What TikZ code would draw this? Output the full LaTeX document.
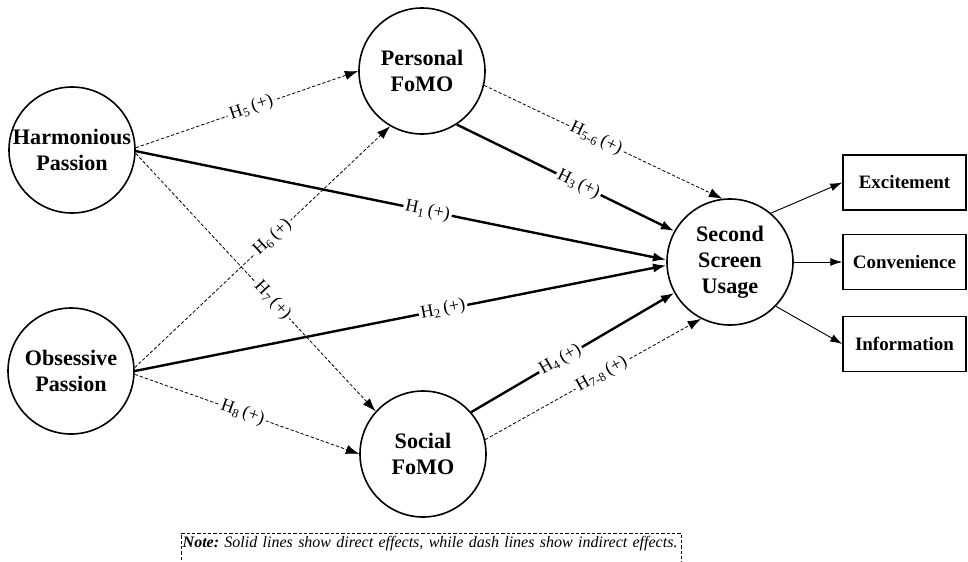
\documentclass[tikz,border=0pt]{standalone}
\usepackage{fontspec}
\setmainfont{Liberation Serif}
\usetikzlibrary{arrows.meta}
\newcommand\Hyp[1]{H\textsubscript{#1}\,(+)}
\begin{document}
\begin{tikzpicture}[x=0.75pt,y=-0.75pt,
  latent/.style={circle, draw, line width=1.2pt, minimum size=94.5pt, inner sep=0pt,
    align=center, font=\bfseries\fontsize{16.6}{19.5}\selectfont},
  indicator/.style={rectangle, draw, line width=1.1pt, minimum width=92.25pt,
    minimum height=41pt, inner sep=0pt, font=\bfseries\fontsize{14.2}{17}\selectfont},
  direct/.style={line width=1.8pt, -{Latex[length=10pt,width=7pt]}},
  indirect/.style={line width=0.6pt, dash pattern=on 2.5pt off 1.5pt,
    -{Latex[length=10pt,width=7pt]}},
  loading/.style={line width=0.7pt, -{Latex[length=9pt,width=6pt]}},
  hyp/.style={sloped, fill=white, inner sep=1.5pt, font=\fontsize{13.5}{15}\selectfont},
  notebox/.style={draw, line width=0.6pt, dash pattern=on 2.5pt off 1.5pt,
    anchor=north west, text width=373pt, align=left, inner xsep=1pt,
    inner ysep=2pt, text depth=20pt, font=\fontsize{12}{14}\selectfont}]
\useasboundingbox (0,0) rectangle (968,561);

% latent constructs
\node[latent] (hp)  at (72,150)  {Harmonious\\Passion};
\node[latent] (op)  at (71,371)  {Obsessive\\Passion};
\node[latent] (pf)  at (422,71)  {Personal\\FoMO};
\node[latent] (sf)  at (423,454) {Social\\FoMO};
\node[latent] (ssu) at (730,262) {Second\\Screen\\Usage};

% indicators
\node[indicator] (exc)  at (904.5,182.5) {Excitement};
\node[indicator] (conv) at (904.5,262)   {Convenience};
\node[indicator] (info) at (904.5,344)   {Information};

% paths from harmonious passion
\draw[indirect] (hp.2)  -- node[hyp, pos=.52] {\Hyp{5}} (pf.west);
\draw[direct]   (hp.-1) -- node[hyp, pos=.55] {\Hyp{1}} (ssu.178);
\draw[indirect] (hp.-3) -- node[hyp, pos=.57] {\Hyp{7}} (sf.138);

% paths from obsessive passion
\draw[indirect] (op.3)  -- node[hyp, pos=.54] {\Hyp{6}} (pf.240);
\draw[direct]   (op.0)  -- node[hyp, pos=.58] {\Hyp{2}} (ssu.183);
\draw[indirect] (op.-3) -- node[hyp, pos=.48] {\Hyp{8}} (sf.west);

% paths from FoMO to second screen usage
\draw[direct]   (pf.-57) -- node[hyp, pos=.56] {\Hyp{3}}   (ssu.151);
\draw[indirect] (pf.-13) -- node[hyp, pos=.47] {\Hyp{5-6}} (ssu.97);
\draw[direct]   (sf.41)  -- node[hyp, pos=.44] {\Hyp{4}}   (ssu.209);
\draw[indirect] (sf.13)  -- node[hyp, pos=.54] {\Hyp{7-8}} (ssu.243);

% measurement paths
\draw[loading] (ssu.50)  -- (exc.west);
\draw[loading] (ssu.east) -- (conv.west);
\draw[loading] (ssu.-44) -- (info.west);

% note
\node[notebox] (note) at (181,533)
  {\mbox{\textbf{\textit{Note:}}\ \textit{Solid lines show direct effects, while dash lines show indirect effects.}}};
\end{tikzpicture}
\end{document}
